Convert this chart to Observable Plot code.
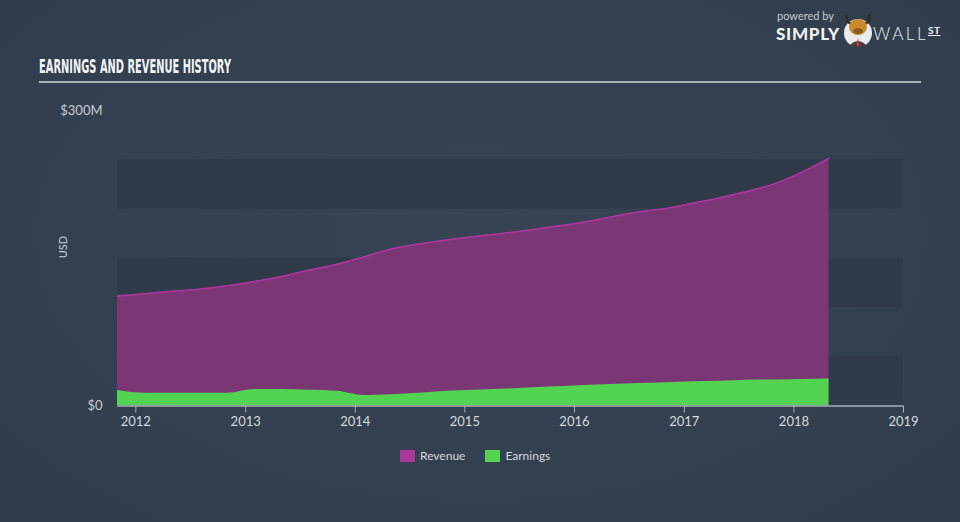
<!DOCTYPE html>
<html>
<head>
<meta charset="utf-8">
<script src="https://cdn.jsdelivr.net/npm/d3@7"></script>
<script src="https://cdn.jsdelivr.net/npm/@observablehq/plot@0.6"></script>
<style>
  html, body { margin: 0; padding: 0; }
  body { width: 960px; height: 522px; overflow: hidden; position: relative;
         background: radial-gradient(ellipse at 50% 45%, #374453 0%, #334050 60%, #303c4a 100%);
         font-family: Lato, "Open Sans", sans-serif; }
  #chart { position: absolute; left: 0; top: 0; }
  #title { position: absolute; left: 39px; top: 55px; color: #f2f4f6; white-space: nowrap;
           font-family: "DejaVu Sans", sans-serif; font-weight: bold; font-size: 19px;
           transform: scaleX(0.52); transform-origin: left top; }
  #rule { position: absolute; left: 39px; top: 81px; width: 882px; height: 2px; background: #aab1b9; }
  #legend { position: absolute; top: 448px; left: 400px; display: flex;
            gap: 20px; color: #d6dade; font-size: 12px; }
  .item { display: flex; align-items: center; gap: 5px; }
  .sw { width: 15px; height: 12px; display: inline-block; }
  #logo { position: absolute; left: 776px; top: 9px; color: #e9ecef; }
  #pow { position: absolute; left: 1px; top: 0px; font-size: 11px; color: #c5cad0; white-space: nowrap; }
  #simply { position: absolute; left: 0; top: 14px; font-size: 17px; font-weight: 900; letter-spacing: 0.7px; color: #eef0f2; }
  #wall { position: absolute; left: 97px; top: 14px; font-size: 17px; font-weight: 300; letter-spacing: 2.5px; color: #eef0f2; white-space: nowrap; }
  #wall sup { font-size: 10px; font-weight: 700; text-decoration: underline; vertical-align: 6px; letter-spacing: 0.5px; }
  #bull { position: absolute; left: 66px; top: 2px; }
</style>
</head>
<body>
<div id="chart"></div>
<div id="title">EARNINGS AND REVENUE HISTORY</div>
<div id="rule"></div>
<div id="logo">
  <div id="pow">powered by</div>
  <div id="simply">SIMPLY</div>
  <svg id="bull" width="32" height="38" viewBox="0 0 32 38">
    <circle cx="16" cy="22" r="14" fill="#e9ecef"/>
    <path d="M5 4 Q4 12 10 13 M27 4 Q28 12 22 13" stroke="#3b2a1a" stroke-width="2.5" fill="none"/>
    <ellipse cx="16" cy="16" rx="9" ry="8" fill="#c98a2e"/>
    <ellipse cx="16" cy="20" rx="5" ry="3" fill="#8a5a22"/>
    <path d="M6 36 Q16 24 26 36 Z" fill="#3d3f44"/>
    <path d="M16 27 L17.5 34 L16 36 L14.5 34 Z" fill="#d33"/>
  </svg>
  <div id="wall">WALL<sup>ST</sup></div>
</div>
<div id="legend">
  <span class="item"><span class="sw" style="background:#a8389a"></span>Revenue</span>
  <span class="item"><span class="sw" style="background:#52d452"></span>Earnings</span>
</div>
<script>
// ---- data (USD millions) ----
const dates = ["2011-11-01","2012-02-01","2012-05-01","2012-08-01","2012-11-01",
  "2013-02-01","2013-05-01","2013-08-01","2013-11-01","2014-02-01","2014-05-01",
  "2014-08-01","2014-11-01","2015-02-01","2015-05-01","2015-08-01","2015-11-01",
  "2016-02-01","2016-05-01","2016-08-01","2016-11-01","2017-02-01","2017-05-01",
  "2017-08-01","2017-11-01","2018-02-01","2018-04-28"];
const revenue = [111.7,114,116.5,118.5,122,126.5,131.5,138,144,151.5,159.5,164.5,168.5,
  172,175,178.5,182.5,186.5,192,197,200.5,206,211.5,218,226,238,251.4];
const earnings = [15.8,13,13,13,13,16.8,16.8,16,15,10.7,11.5,13,15,16,17,18.3,19.5,
  20.8,21.8,22.8,23.7,24.5,25.2,26.1,26.5,26.9,27.3];
const yTicks = [0, 300];
const xTickYears = [2012,2013,2014,2015,2016,2017,2018,2019];
const bandLow = [0, 100, 200];
const bandHigh = [50, 150, 250];

const parse = d3.utcParse("%Y-%m-%d");
const revData = dates.map((d, i) => ({date: parse(d), value: revenue[i]}));
const earnData = dates.map((d, i) => ({date: parse(d), value: earnings[i]}));
const bands = bandLow.map((lo, i) => ({lo, hi: bandHigh[i]}));
const xStart = new Date(Date.UTC(2011, 10, 1));
const xEnd = new Date(Date.UTC(2019, 0, 1));
const xTicks = xTickYears.map(y => new Date(Date.UTC(y, 0, 1)));

const chart = Plot.plot({
  width: 960,
  height: 440,
  marginLeft: 117,
  marginRight: 57,
  marginTop: 110,
  marginBottom: 34.5,
  style: {background: "transparent", color: "#d3d7dc", fontFamily: "Lato, 'Open Sans', sans-serif", fontSize: "12.5px"},
  x: {type: "utc", domain: [xStart, xEnd], ticks: xTicks, tickFormat: d3.utcFormat("%Y"), label: null},
  y: {domain: [0, 300], label: null},
  marks: [
    Plot.rect(bands, {x1: () => xStart, x2: () => xEnd, y1: "lo", y2: "hi", fill: "#2f3b49"}),
    Plot.areaY(revData, {x: "date", y: "value", fill: "#7b3775", curve: "monotone-x"}),
    Plot.lineY(revData, {x: "date", y: "value", stroke: "#b2359f", strokeWidth: 1.5, curve: "monotone-x"}),
    Plot.areaY(earnData, {x: "date", y: "value", fill: "#52d452", curve: "monotone-x"}),
    Plot.ruleY([0], {stroke: "#a6aeb7", strokeWidth: 1.5}),
    Plot.axisX({ticks: xTicks, tickFormat: d3.utcFormat("%Y"), tickSize: 7, tickPadding: 4, stroke: "#a6aeb7", fill: "#d6dade", fontSize: 13}),
    Plot.axisY({ticks: yTicks, tickSize: 0, tickPadding: 15, tickFormat: d => d === 0 ? "$0" : `$${d}M`, fill: "#c9cdd2", fontSize: 13}),
    Plot.text(["USD"], {frameAnchor: "left", dx: -54, dy: 0, rotate: -90, fill: "#c9cdd2", fontSize: 11})
  ]
});
document.getElementById("chart").appendChild(chart);
</script>
</body>
</html>
